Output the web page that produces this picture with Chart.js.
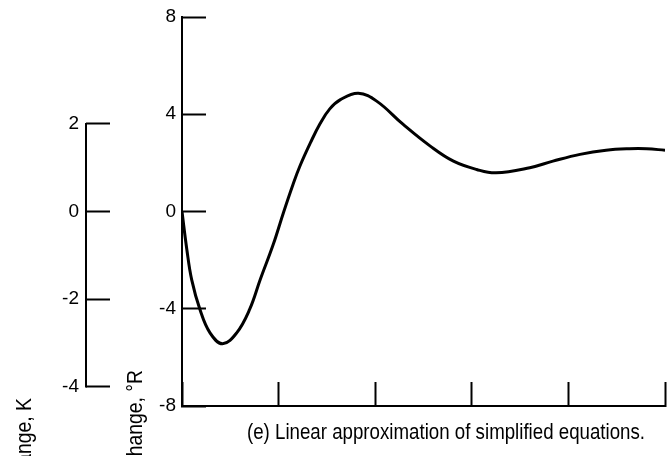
<!DOCTYPE html>
<html>
<head>
<meta charset="utf-8">
<script src="https://cdn.jsdelivr.net/npm/chart.js@4.4.1/dist/chart.umd.min.js"></script>
<style>
    html, body { margin: 0; padding: 0; background: #fff; overflow: hidden; }
    #chart { display: block; }
</style>
</head>
<body>
<canvas id="chart" width="671" height="456"></canvas>
<script>
// Temperature response, linear approximation of the simplified equations
const timeValues = [0, 0.05, 0.10, 0.186, 0.29, 0.42, 0.566, 0.70, 0.81, 0.945, 1.05, 1.15, 1.22, 1.33, 1.43, 1.53, 1.64, 1.825, 2.015, 2.29, 2.57, 2.81, 3.05, 3.25, 3.60, 3.84, 4.12, 4.39, 4.63, 4.81, 5.0];
const tempChangeR = [0, -1.56, -2.80, -4.03, -4.99, -5.44, -4.99, -4.03, -2.80, -1.35, -0.05, 1.12, 1.86, 2.83, 3.62, 4.22, 4.60, 4.86, 4.54, 3.58, 2.69, 2.07, 1.73, 1.59, 1.80, 2.07, 2.35, 2.52, 2.58, 2.58, 2.52];

const rankineTicks = [-8, -4, 0, 4, 8];
const kelvinTicks = [-4, -2, 0, 2];
const timeTicks = [0, 1, 2, 3, 4, 5];

const rankineTitle = 'Temperature change, \u00B0R';
const kelvinTitle = 'Temperature change, K';
const caption = '(e) Linear approximation of simplified equations.';

const FONT = "'Liberation Sans', Arial, sans-serif";

const points = timeValues.map((t, i) => ({ x: t, y: tempChangeR[i] }));

// squeezes the lettering sideways to get the condensed look
function narrowText(ctx, text, x, y, angle, squeeze) {
    ctx.save();
    ctx.translate(x, y);
    ctx.rotate(angle);
    ctx.scale(squeeze, 1);
    ctx.fillText(text, 0, 0);
    ctx.restore();
}

// K axis only spans part of the height, so its spine is drawn here
const extraText = {
    id: 'extraText',
    afterDraw(chart) {
        const ctx = chart.ctx;
        const k = chart.scales.yK;

        ctx.save();
        ctx.strokeStyle = '#000';
        ctx.lineWidth = 2;
        ctx.beginPath();
        ctx.moveTo(k.right, k.getPixelForValue(Math.max(...kelvinTicks)) - 1);
        ctx.lineTo(k.right, k.getPixelForValue(Math.min(...kelvinTicks)) + 1);
        ctx.stroke();

        ctx.fillStyle = '#000';
        ctx.textBaseline = 'alphabetic';

        ctx.font = '22px ' + FONT;
        ctx.textAlign = 'right';
        narrowText(ctx, rankineTitle, 142, 370, -Math.PI / 2, 0.88);
        narrowText(ctx, kelvinTitle, 31, 398, -Math.PI / 2, 0.88);

        ctx.font = '22px ' + FONT;
        ctx.textAlign = 'center';
        narrowText(ctx, caption, 446, 439, 0, 0.85);
        ctx.restore();
    }
};

function noPadding(s) {
    s.paddingTop = 0;
    s.paddingBottom = 0;
    s.paddingLeft = 0;
    s.paddingRight = 0;
}

const inwardTicks = {
    drawOnChartArea: false,
    tickLength: -24,
    tickColor: '#000',
    tickWidth: 2
};

new Chart(document.getElementById('chart'), {
    type: 'line',
    data: {
        datasets: [{
            data: points,
            borderColor: '#000',
            borderWidth: 3,
            pointRadius: 0,
            fill: false,
            tension: 0.4
        }]
    },
    options: {
        responsive: false,
        animation: false,
        layout: { padding: { top: 17, right: 6, left: 0, bottom: 0 } },
        plugins: {
            legend: { display: false },
            tooltip: { enabled: false }
        },
        scales: {
            x: {
                type: 'linear',
                position: 'bottom',
                min: 0,
                max: 5,
                afterBuildTicks: s => { s.ticks = timeTicks.map(v => ({ value: v })); },
                afterFit: s => { s.height = 50; noPadding(s); },
                ticks: { display: false },
                grid: inwardTicks,
                border: { display: true, color: '#000', width: 2 }
            },
            y: {
                type: 'linear',
                position: 'left',
                weight: 1,
                min: -8,
                max: 8,
                afterBuildTicks: s => { s.ticks = rankineTicks.map(v => ({ value: v })); },
                afterFit: s => { s.width = 96; noPadding(s); },
                ticks: {
                    color: '#000',
                    padding: 30,
                    font: { family: FONT, size: 19 },
                    callback: v => String(v)
                },
                grid: inwardTicks,
                border: { display: true, color: '#000', width: 2 }
            },
            yK: {
                type: 'linear',
                position: 'left',
                weight: 2,
                min: -8 / 1.8,
                max: 8 / 1.8,
                afterBuildTicks: s => { s.ticks = kelvinTicks.map(v => ({ value: v })); },
                afterFit: s => { s.width = 86; noPadding(s); },
                ticks: {
                    color: '#000',
                    padding: 31,
                    font: { family: FONT, size: 19 },
                    callback: v => String(v)
                },
                grid: inwardTicks,
                border: { display: false }
            }
        }
    },
    plugins: [extraText]
});
</script>
</body>
</html>
